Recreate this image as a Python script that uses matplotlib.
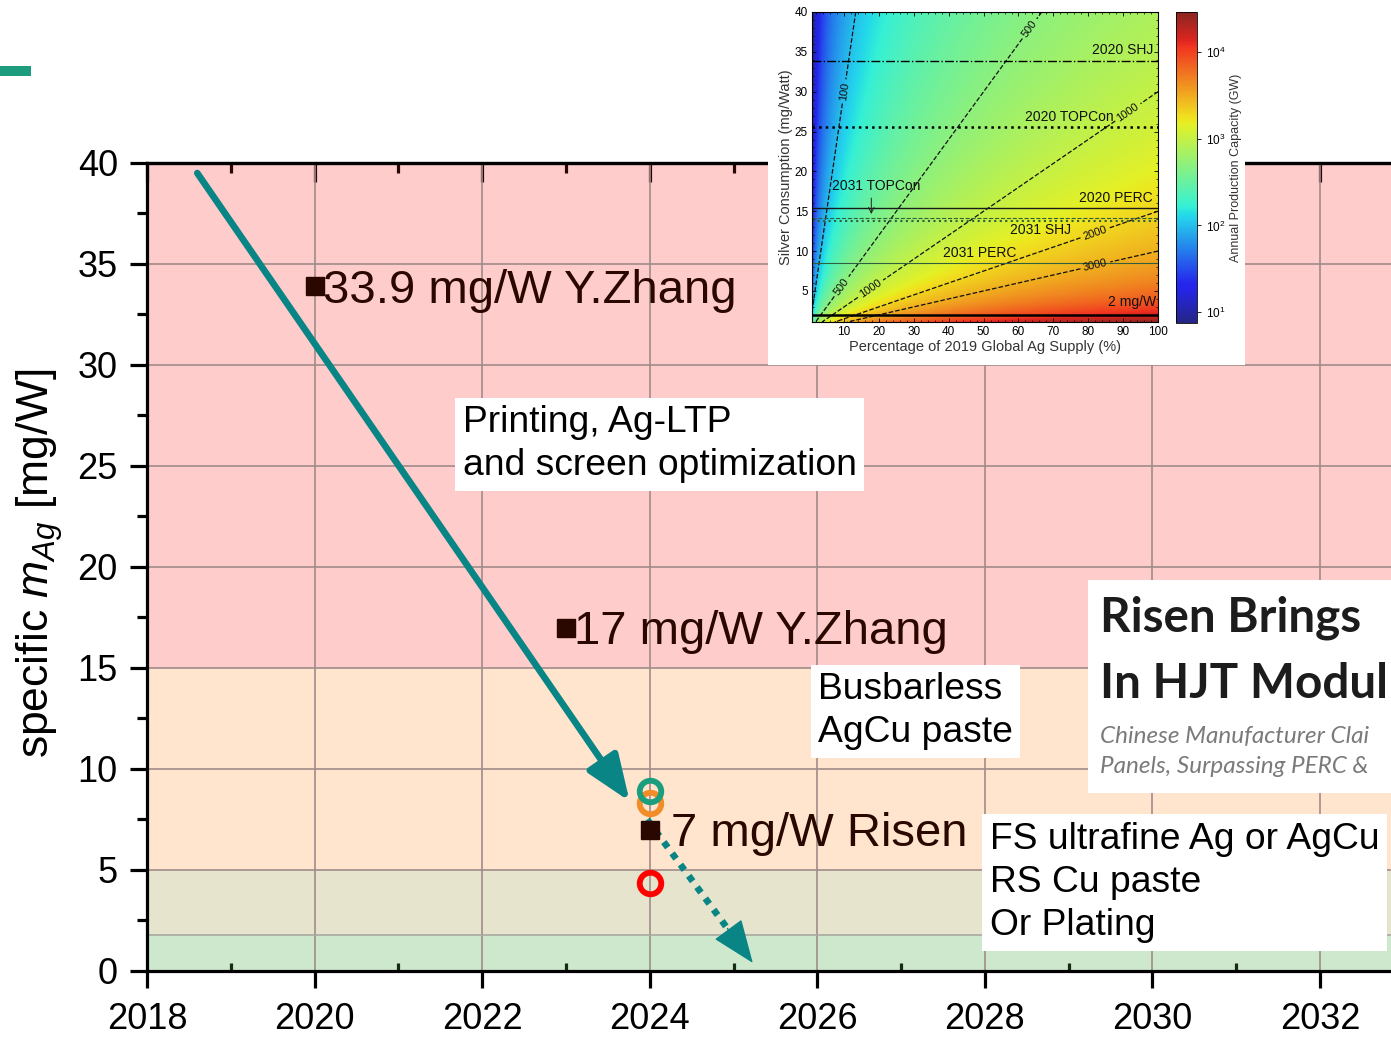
import numpy as np
import matplotlib
matplotlib.use("Agg")
import matplotlib.pyplot as plt
from matplotlib.patches import Rectangle
from matplotlib.colors import LogNorm, ListedColormap
from matplotlib.ticker import MultipleLocator

plt.rcParams["font.family"] = ["Liberation Sans", "DejaVu Sans"]
plt.rcParams["mathtext.fontset"] = "custom"
plt.rcParams["mathtext.rm"] = "Liberation Sans"
plt.rcParams["mathtext.it"] = "Liberation Sans:italic"

# ---------------- main chart data ----------------
band_edges = [0, 1.8, 5, 15, 40]
band_colors = ["#cde8cd", "#e6e4cc", "#ffe5cd", "#ffcccc"]

ref_years = [2020, 2023, 2024]
ref_values = [33.9, 17.0, 7.0]
ref_labels = ["33.9 mg/W Y.Zhang", "17 mg/W Y.Zhang", "7 mg/W Risen"]
ref_label_gaps = [6, 6, 15]

ring_years = [2024, 2024, 2024]
ring_values = [8.3, 8.9, 4.35]
ring_colors = ["#f28c28", "#1b9e7e", "#ff0000"]

trend_years = [2018.6, 2023.76]
trend_values = [39.5, 8.4]
outlook_years = [2023.97, 2025.23]
outlook_values = [7.5, 0.4]

x_ticks = [2018, 2020, 2022, 2024, 2026, 2028, 2030, 2032]
y_ticks = [0, 5, 10, 15, 20, 25, 30, 35, 40]

# ---------------- inset data ----------------
ag_gw_per_percent = 300          # GW per % of 2019 supply at 1 mg/W
capacity_levels = [100, 500, 1000, 2000, 3000]
level_label_spots = [(10.5, 30), (66, 37), (11, 5), (92, 27), (18, 5), (82, 12.2), (82, 8.3)]

inset_ref_names = ["2020 SHJ", "2020 TOPCon", "2020 PERC", "2031 TOPCon", "2031 SHJ", "2031 PERC", "2 mg/W"]
inset_ref_values = [33.9, 25.6, 15.4, 14.2, 13.8, 8.5, 2.0]
inset_ref_styles = ["-.", ":", "-", "--", ":", "-", "-"]
inset_ref_widths = [1.0, 1.8, 1.0, 0.8, 1.5, 0.8, 1.8]
inset_ref_colors = ["k", "k", "#1a1a1a", "#2f5f3f", "#2f5f3f", "#2f5f3f", "k"]

TEAL = "#0a8585"
DARK = "#2a0800"

fig = plt.figure(figsize=(13.91, 10.37), dpi=100)
fig.patch.set_facecolor("white")

ax = fig.add_axes([0.10568, 0.06365, 0.9397, 0.7792], zorder=0)
ax.set_xlim(2018, 2033.6)
ax.set_ylim(0, 40)

for lo, hi, c in zip(band_edges[:-1], band_edges[1:], band_colors):
    ax.axhspan(lo, hi, color=c, zorder=0, lw=0)
ax.axhline(band_edges[1], color="#a8a8a0", lw=1.2, zorder=0.6)

ax.set_xticks(x_ticks)
ax.set_yticks(y_ticks)
ax.xaxis.set_minor_locator(MultipleLocator(1))
ax.yaxis.set_minor_locator(MultipleLocator(2.5))
ax.set_axisbelow(True)
ax.grid(True, which="major", color="#a08c8a", lw=1.2)

for s in ax.spines.values():
    s.set_linewidth(2.3)
ax.spines["right"].set_visible(False)

ax.tick_params(axis="x", which="major", direction="out", length=12, width=2.3,
               labelsize=26, pad=10, top=False)
ax.tick_params(axis="x", which="minor", direction="in", length=6, width=2.3,
               color="#1a2a10", top=False)
ax.tick_params(axis="y", which="major", direction="out", length=12, width=2.3,
               labelsize=26, pad=9, right=False)
ax.tick_params(axis="y", which="minor", direction="out", length=7, width=2.3, right=False)

top = ax.secondary_xaxis("top")
top.set_xticks(x_ticks)
top.xaxis.set_minor_locator(MultipleLocator(1))
top.tick_params(which="major", direction="in", length=14, width=2.3, labeltop=False, color="#2a0505")
top.tick_params(which="minor", direction="in", length=7, width=2.3, color="#2a0505")
top.spines["top"].set_linewidth(2.3)

ax.set_ylabel(r"specific $m_{Ag}$ [mg/W]", fontsize=32)
ax.yaxis.set_label_coords(-0.063, 0.505)

# trend arrow and outlook
ax.annotate("", xy=(trend_years[1], trend_values[1]), xytext=(trend_years[0], trend_values[0]),
            arrowprops=dict(arrowstyle="-|>,head_length=1.4,head_width=0.55", color=TEAL,
                            lw=4.8, mutation_scale=20, shrinkA=0, shrinkB=0), zorder=4)
frac = 0.76
mid_x = outlook_years[0] + frac * (outlook_years[1] - outlook_years[0])
mid_y = outlook_values[0] + frac * (outlook_values[1] - outlook_values[0])
ax.plot([outlook_years[0], mid_x], [outlook_values[0], mid_y], color=TEAL, lw=4.8,
        linestyle=(0, (1, 1.1)), zorder=4)
ax.annotate("", xy=(outlook_years[1], outlook_values[1]), xytext=(mid_x, mid_y),
            arrowprops=dict(arrowstyle="-|>,head_length=1.4,head_width=0.55", color=TEAL,
                            lw=1, mutation_scale=20, shrinkA=0, shrinkB=0), zorder=4)

# rings at 2024
for xr, yr, cr in zip(ring_years, ring_values, ring_colors):
    ax.plot(xr, yr, "o", ms=15.5, mfc="none", mec=cr, mew=4.2, zorder=5)

# reference points
ax.plot(ref_years, ref_values, "s", ms=13, color=DARK, zorder=6, ls="none")
for xr, yr, lab, gap in zip(ref_years, ref_values, ref_labels, ref_label_gaps):
    ax.annotate(lab, (xr, yr), xytext=(gap, -12), textcoords="offset points",
                fontsize=34, color=DARK, va="baseline", ha="left", zorder=6)

box = dict(facecolor="white", edgecolor="none", boxstyle="square,pad=0.2")
ax.text(2021.77, 28.0, "Printing, Ag-LTP\nand screen optimization", fontsize=26.8,
        va="top", ha="left", linespacing=1.3, bbox=box, zorder=7)
ax.text(2026.01, 14.8, "Busbarless\nAgCu paste", fontsize=26.8,
        va="top", ha="left", linespacing=1.3, bbox=box, zorder=7)
ax.text(2028.06, 7.38, "FS ultrafine Ag or AgCu\nRS Cu paste\nOr Plating", fontsize=26.8,
        va="top", ha="left", linespacing=1.3, bbox=box, zorder=7)

# small accent bar
fig.add_artist(Rectangle((0, (1037 - 76) / 1037), 31 / 1391, 10 / 1037,
                         transform=fig.transFigure, facecolor="#1e9c7e", edgecolor="none", zorder=2))

# news card
fig.add_artist(Rectangle((1088 / 1391, (1037 - 793) / 1037), (1391 - 1088) / 1391, (793 - 580) / 1037,
                         transform=fig.transFigure, facecolor="white", edgecolor="none", zorder=2))
for txt, yb in [("Risen Brings", 632), ("In HJT Modul", 698)]:
    fig.text(1100 / 1391, (1037 - yb) / 1037, txt, fontsize=34.3, fontweight="bold",
             family=["Lato", "DejaVu Sans"], color="#1c1c1c", va="baseline", ha="left", zorder=3)
for txt, yb in [("Chinese Manufacturer Clai", 743), ("Panels, Surpassing PERC &", 773)]:
    fig.text(1100 / 1391, (1037 - yb) / 1037, txt, fontsize=17.5, style="italic",
             family=["Lato", "DejaVu Sans"], color="#7a7a7a", va="baseline", ha="left", zorder=3)

# ---------------- inset ----------------
fig.add_artist(Rectangle((768 / 1391, (1037 - 365) / 1037), 477 / 1391, 365 / 1037,
                         transform=fig.transFigure, facecolor="white", edgecolor="none", zorder=2))
iax = fig.add_axes([812 / 1391, (1037 - 322) / 1037, 346 / 1391, 310 / 1037], zorder=3)

# softened jet palette
jet = plt.get_cmap("jet")(np.linspace(0, 1, 256))
soft = jet.copy()
soft[:, :3] = 0.8 * jet[:, :3] + 0.2 * np.array([0.72, 0.72, 0.62])
soft_cmap = ListedColormap(soft)

xs = np.linspace(0.8, 100, 500)
ys = np.linspace(1.1, 40, 500)
X, Y = np.meshgrid(xs, ys)
cap = ag_gw_per_percent * X / Y
norm = LogNorm(vmin=7.5, vmax=29000)
im = iax.imshow(cap, origin="lower", extent=(0.8, 100, 1.1, 40), aspect="auto",
                cmap=soft_cmap, norm=norm, interpolation="bilinear")
cs = iax.contour(X, Y, cap, levels=capacity_levels, colors="#111111", linestyles="--", linewidths=0.9)
iax.clabel(cs, fmt="%d", fontsize=8, manual=level_label_spots, inline=True, inline_spacing=3)

for v, st, w, c in zip(inset_ref_values, inset_ref_styles, inset_ref_widths, inset_ref_colors):
    iax.axhline(v, ls=st, lw=w, color=c)

label_spots = [(98.5, 35.2, "right"), (87.3, 26.8, "right"), (98.6, 16.7, "right"),
               (6.5, 18.2, "left"), (75.0, 12.6, "right"), (59.5, 9.8, "right"), (99.5, 3.6, "right")]
for name, (lx, ly, ha) in zip(inset_ref_names, label_spots):
    iax.text(lx, ly, name, fontsize=10, ha=ha, va="center", color="#111111")
iax.annotate("", xy=(17.8, 14.3), xytext=(17.8, 17.0),
             arrowprops=dict(arrowstyle="->", lw=0.7, color="#222222"))

iax.set_xlim(0.8, 100)
iax.set_ylim(1.1, 40)
iax.set_xticks(range(10, 101, 10))
iax.set_yticks(range(5, 41, 5))
iax.xaxis.set_minor_locator(MultipleLocator(2))
iax.yaxis.set_minor_locator(MultipleLocator(1))
iax.tick_params(which="both", direction="in", top=True, right=True, labelsize=8.5, pad=3)
iax.tick_params(which="major", length=3, width=0.6)
iax.tick_params(which="minor", length=1.5, width=0.5)
iax.set_xlabel("Percentage of 2019 Global Ag Supply (%)", fontsize=10.5, labelpad=1, color="#333333")
iax.set_ylabel("Silver Consumption (mg/Watt)", fontsize=10.5, labelpad=1, color="#333333")

cax = fig.add_axes([1176 / 1391, (1037 - 323) / 1037, 21 / 1391, 311 / 1037], zorder=3)
cb = fig.colorbar(im, cax=cax)
cb.set_ticks([10, 100, 1000, 10000])
cb.ax.tick_params(labelsize=8.5, length=3, width=0.6)
cb.ax.tick_params(which="minor", length=0)
cb.set_label("Annual Production Capacity (GW)", fontsize=9, color="#333333", labelpad=3)
cb.outline.set_linewidth(0.6)

fig.savefig("out.png", dpi=100)
